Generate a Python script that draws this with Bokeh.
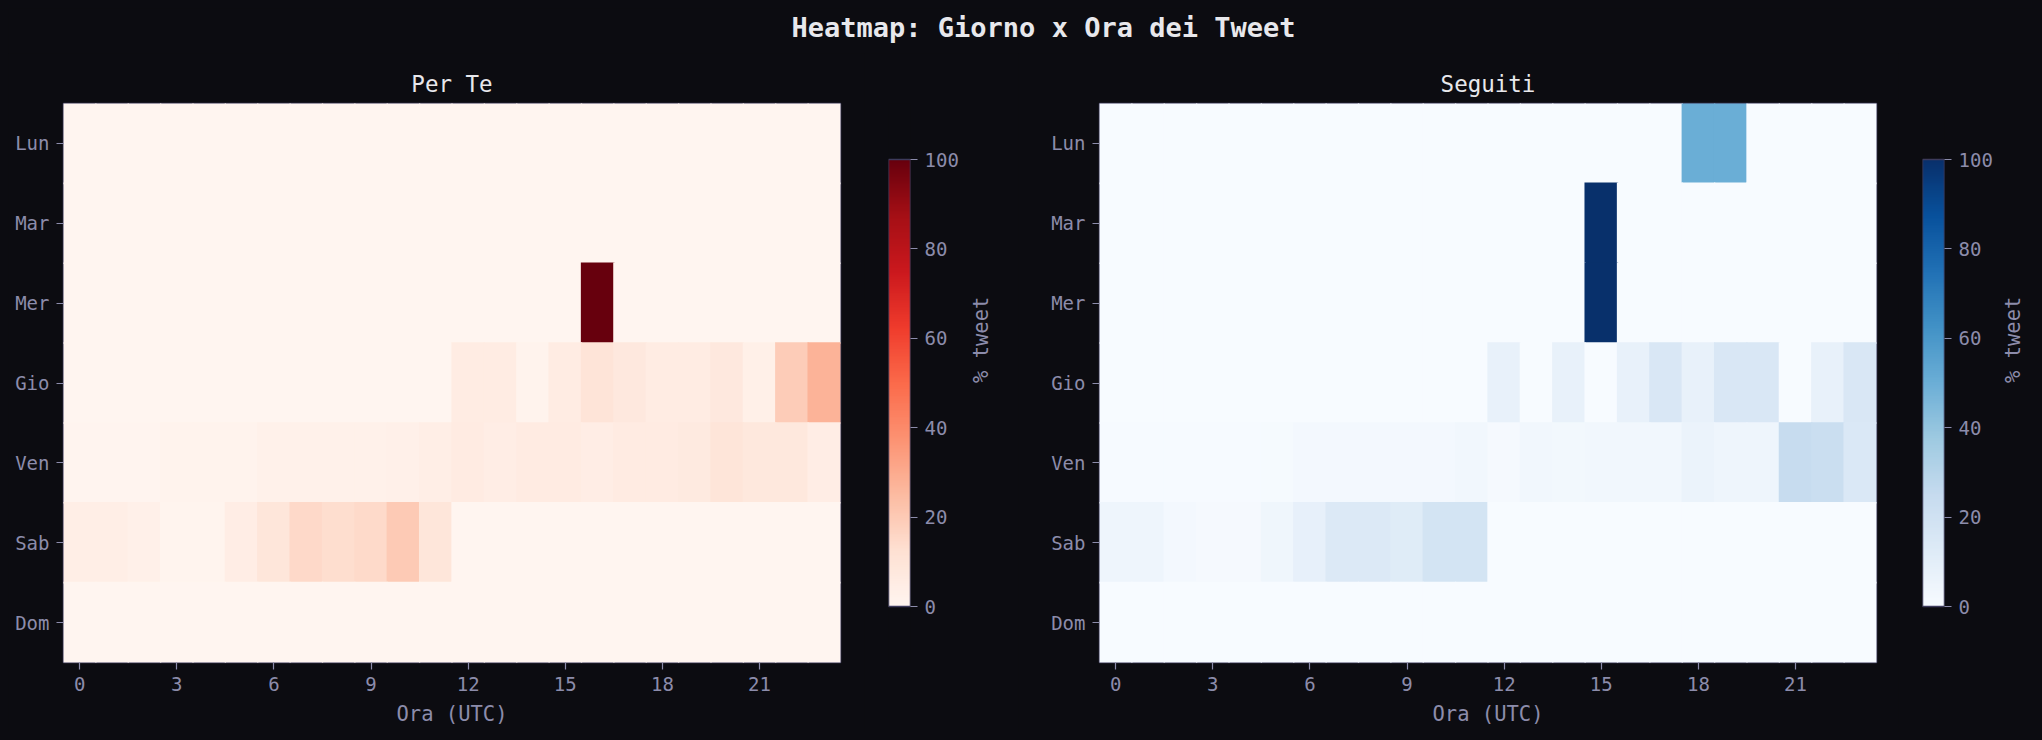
import math
import numpy as np
from bokeh.plotting import figure
from bokeh.models import Range1d, FactorRange, FixedTicker, LinearColorMapper, ColumnDataSource, Label
from bokeh.layouts import row, column
from bokeh.palettes import Reds256, Blues256
from bokeh.transform import linear_cmap
from bokeh.embed import file_html
from bokeh.resources import INLINE

# ---------------- data ----------------
days = ["Lun", "Mar", "Mer", "Gio", "Ven", "Sab", "Dom"]
hours = list(range(24))
x_ticks = [0, 3, 6, 9, 12, 15, 18, 21]
cbar_ticks = [0, 20, 40, 60, 80, 100]
vmin, vmax = 0, 100

# "Per Te" (% tweet per hour, per day)
pt_lun = [0, 0, 0, 0, 0, 0, 0, 0, 0, 0, 0, 0, 0, 0, 0, 0, 0, 0, 0, 0, 0, 0, 0, 0]
pt_mar = [0, 0, 0, 0, 0, 0, 0, 0, 0, 0, 0, 0, 0, 0, 0, 0, 0, 0, 0, 0, 0, 0, 0, 0]
pt_mer = [0, 0, 0, 0, 0, 0, 0, 0, 0, 0, 0, 0, 0, 0, 0, 0, 100, 0, 0, 0, 0, 0, 0, 0]
pt_gio = [0, 0, 0, 0, 0, 0, 0, 0, 0, 0, 0, 0, 5.5, 5.5, 1.5, 5.5, 10.5, 7.5, 5.5, 5.5, 7.5, 3.5, 19.5, 27.5]
pt_ven = [0.5, 0.5, 0.5, 1.5, 1.5, 1.5, 2.5, 2.5, 2.5, 2.5, 3, 4.5, 6, 5, 6, 6, 5, 6, 6, 7, 9.5, 8, 8, 5]
pt_sab = [4.5, 4.5, 3, 1, 1, 5, 9, 15, 13.5, 14.5, 20, 9, 0, 0, 0, 0, 0, 0, 0, 0, 0, 0, 0, 0]
pt_dom = [0, 0, 0, 0, 0, 0, 0, 0, 0, 0, 0, 0, 0, 0, 0, 0, 0, 0, 0, 0, 0, 0, 0, 0]

# "Seguiti"
sg_lun = [0, 0, 0, 0, 0, 0, 0, 0, 0, 0, 0, 0, 0, 0, 0, 0, 0, 0, 50, 50, 0, 0, 0, 0]
sg_mar = [0, 0, 0, 0, 0, 0, 0, 0, 0, 0, 0, 0, 0, 0, 0, 100, 0, 0, 0, 0, 0, 0, 0, 0]
sg_mer = [0, 0, 0, 0, 0, 0, 0, 0, 0, 0, 0, 0, 0, 0, 0, 100, 0, 0, 0, 0, 0, 0, 0, 0]
sg_gio = [0, 0, 0, 0, 0, 0, 0, 0, 0, 0, 0, 0, 7.7, 0, 7.7, 0, 7.7, 15.4, 7.7, 15.4, 15.4, 0, 7.7, 15.4]
sg_ven = [0.5, 0.5, 0.5, 0.5, 0.5, 1, 2, 2, 2, 2, 2, 3.5, 1.5, 3.5, 2.5, 3.5, 3.5, 3.5, 6, 5, 5, 24.5, 23, 14.5]
sg_sab = [4.5, 4.5, 2, 1.5, 1.5, 4, 8.5, 14, 14, 12, 18, 18, 0, 0, 0, 0, 0, 0, 0, 0, 0, 0, 0, 0]
sg_dom = [0, 0, 0, 0, 0, 0, 0, 0, 0, 0, 0, 0, 0, 0, 0, 0, 0, 0, 0, 0, 0, 0, 0, 0]

per_te_rows = [pt_lun, pt_mar, pt_mer, pt_gio, pt_ven, pt_sab, pt_dom]
seguiti_rows = [sg_lun, sg_mar, sg_mer, sg_gio, sg_ven, sg_sab, sg_dom]

main_title = "Heatmap: Giorno x Ora dei Tweet"
cbar_label = "% tweet"

# ---------------- style ----------------
BG = "#0c0c11"
OUTLINE = "#3d3b5c"
TICK = "#8c8cab"
TITLE_C = "#e8e8ec"
FONT = "DejaVu Sans Mono"

TITLE_W = 2026
TITLE_H = 45
ROW_H = 679
TOP_B = 50
BOT_B = 70
FRAME_H = ROW_H - TOP_B - BOT_B      # 559
BAR_H = 447                          # colour bar height in px
bar_pad = (FRAME_H - BAR_H) / 2 / BAR_H * (vmax - vmin)

reds = list(reversed(Reds256))
blues = list(reversed(Blues256))


def style_axis(ax):
    ax.axis_line_color = None
    ax.major_tick_line_color = TICK
    ax.major_tick_line_width = 1.2
    ax.major_tick_out = 7
    ax.major_tick_in = 0
    ax.minor_tick_line_color = None
    ax.major_label_text_color = TICK
    ax.major_label_text_font = FONT
    ax.major_label_text_font_size = "19px"
    ax.major_label_standoff = 7
    ax.axis_label_text_color = TICK
    ax.axis_label_text_font = FONT
    ax.axis_label_text_font_size = "20.5px"
    ax.axis_label_text_font_style = "normal"


def heat(title, rows, palette, width, left, right):
    xs, ys, vs = [], [], []
    for d, vals in zip(days, rows):
        for h, v in zip(hours, vals):
            xs.append(h)
            ys.append(d)
            vs.append(v)
    src = ColumnDataSource(dict(x=xs, y=ys, v=vs))
    p = figure(width=width, height=ROW_H,
               x_range=Range1d(-0.5, 23.5), y_range=FactorRange(*reversed(days)),
               output_backend="svg", toolbar_location=None,
               min_border_left=left, min_border_right=right,
               min_border_top=TOP_B, min_border_bottom=BOT_B,
               background_fill_color=palette[0], border_fill_color=BG,
               outline_line_color=OUTLINE, outline_line_width=1.5,
               title=title)
    cmap = linear_cmap("v", palette, vmin, vmax)
    # slight overlap of neighbouring cells hides anti-aliasing seams
    p.rect(x="x", y="y", width=1.04, height=1.02, source=src,
           fill_color=cmap, line_color=None)
    p.grid.visible = False
    p.xaxis.ticker = FixedTicker(ticks=x_ticks)
    p.xaxis.axis_label = "Ora (UTC)"
    p.xaxis.axis_label_standoff = 8
    for ax in (p.xaxis[0], p.yaxis[0]):
        style_axis(ax)
    p.title.text_font = FONT
    p.title.text_font_size = "22.5px"
    p.title.text_font_style = "normal"
    p.title.text_color = TITLE_C
    p.title.align = "center"
    p.title.standoff = 13
    return p


def cbar(palette, width, left, right, label_standoff):
    c = figure(width=width, height=ROW_H,
               x_range=Range1d(0, 1), y_range=Range1d(vmin - bar_pad, vmax + bar_pad),
               output_backend="svg", toolbar_location=None,
               x_axis_type=None, y_axis_location="right",
               min_border_left=left, min_border_right=right,
               min_border_top=TOP_B, min_border_bottom=BOT_B,
               background_fill_color=BG, border_fill_color=BG,
               outline_line_color=None)
    mapper = LinearColorMapper(palette=palette, low=vmin, high=vmax)
    grad = np.linspace(vmin, vmax, 256).reshape(256, 1)
    c.image(image=[grad], x=0, y=vmin, dw=1, dh=vmax - vmin, color_mapper=mapper)
    c.quad(left=0, right=1, bottom=vmin, top=vmax, fill_color=None,
           line_color=OUTLINE, line_width=1.5)
    c.grid.visible = False
    ax = c.yaxis[0]
    ax.ticker = FixedTicker(ticks=cbar_ticks)
    ax.axis_label = cbar_label
    style_axis(ax)
    ax.axis_label_standoff = label_standoff
    try:
        ax.axis_label_orientation = math.pi / 2
    except Exception:
        pass
    return c


title_fig = figure(width=TITLE_W, height=TITLE_H,
                   x_range=Range1d(0, TITLE_W), y_range=Range1d(0, TITLE_H),
                   x_axis_type=None, y_axis_type=None,
                   output_backend="svg", toolbar_location=None,
                   min_border_left=0, min_border_right=0, min_border_top=0, min_border_bottom=0,
                   background_fill_color=BG, border_fill_color=BG, outline_line_color=None)
title_fig.grid.visible = False
title_fig.add_layout(Label(x=1035, y=TITLE_H - 19, text=main_title,
                           text_font=FONT, text_font_size="27px", text_font_style="bold",
                           text_color=TITLE_C, text_align="center", text_baseline="middle"))

p1 = heat("Per Te", per_te_rows, reds, 856, 55, 24)
c1 = cbar(reds, 154, 24, 108, 19)
p2 = heat("Seguiti", seguiti_rows, blues, 880, 81, 22)
c2 = cbar(blues, 142, 24, 96, 17)

layout = column(title_fig, row(p1, c1, p2, c2), spacing=0)
layout.styles = {"background-color": BG}

html = file_html(layout, INLINE, title="Heatmap")
html = html.replace("</head>",
                    "<style>html {background-color: %s; margin: 0; padding: 0; overflow: hidden;} "
                    "body {background-color: %s; margin: 8px; overflow: hidden;}</style></head>" % (BG, BG), 1)
open("out.html", "w").write(html)
